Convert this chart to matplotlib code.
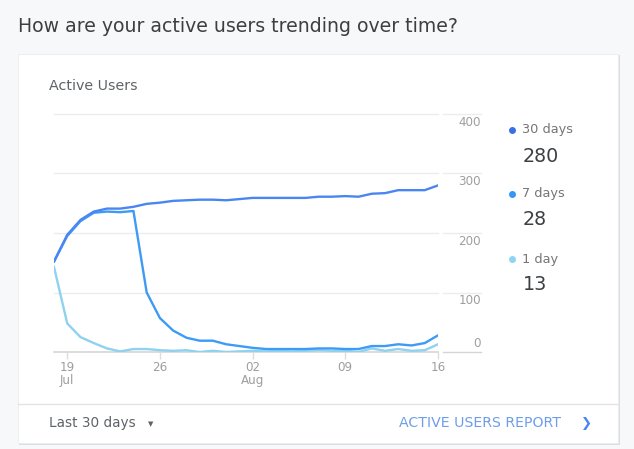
import matplotlib
matplotlib.use("Agg")
import matplotlib.pyplot as plt
import matplotlib.transforms as mtransforms
from matplotlib.patches import Rectangle
import pandas as pd

plt.rcParams['font.family'] = ['DejaVu Sans']

# ---- data ----
dates = pd.date_range("2020-07-18", "2020-08-16", freq="D")
users_30d = [152, 197, 222, 236, 241, 241, 244, 249, 251, 254, 255, 256, 256, 255, 257,
             259, 259, 259, 259, 259, 261, 261, 262, 261, 266, 267, 272, 272, 272, 280]
users_7d = [152, 195, 220, 234, 236, 235, 237, 100, 57, 36, 24, 19, 19, 13, 10,
            7, 5, 5, 5, 5, 6, 6, 5, 5, 10, 10, 13, 11, 15, 28]
users_1d = [143, 48, 25, 15, 6, 1, 5, 5, 3, 2, 3, 0, 2, 0, 1,
            2, 1, 2, 1, 2, 3, 2, 2, 0, 6, 2, 5, 2, 3, 13]
series_names = ["30 days", "7 days", "1 day"]
series_latest = ["280", "28", "13"]
y_ticks = [0, 100, 200, 300, 400]
x_tick_dates = ["2020-07-19", "2020-07-26", "2020-08-02", "2020-08-09", "2020-08-16"]
x_tick_labels = ["19\nJul", "26", "02\nAug", "09", "16"]

line_colors = ["#4a86f2", "#3d9bf5", "#8fd2ef"]
dot_colors = ["#3b6fe6", "#3399f5", "#8ed6f0"]

W, H = 634, 449
fig = plt.figure(figsize=(W / 100, H / 100), dpi=100)
fig.patch.set_facecolor("#f7f8f9")


def fx(px):
    return px / W


def fy(py):
    return 1 - py / H


# card shadow and card
shadow = Rectangle((fx(19), fy(445)), fx(620) - fx(19), fy(55) - fy(445),
                   transform=fig.transFigure, facecolor="#dddee1", edgecolor="none", zorder=0)
fig.patches.append(shadow)
card = Rectangle((fx(18), fy(443)), fx(618) - fx(18), fy(54) - fy(443),
                 transform=fig.transFigure, facecolor="white", edgecolor="#ececec",
                 linewidth=0.6, zorder=1)
fig.patches.append(card)

# footer separator
fig.add_artist(plt.Line2D([fx(18), fx(618)], [fy(404), fy(404)], transform=fig.transFigure,
                          color="#e3e3e3", linewidth=1.0, zorder=2))

# texts
fig.text(fx(18), fy(26), "How are your active users trending over time?", fontsize=13.6,
         color="#3c4043", va="center", ha="left")
fig.text(fx(49), fy(86), "Active Users", fontsize=10.3, color="#5f6368", va="center", ha="left")
fig.text(fx(49), fy(423), "Last 30 days", fontsize=9.8, color="#5f6368", va="center", ha="left")
fig.text(fx(151), fy(424), "\u25BC", fontsize=5, color="#5f6368", va="center", ha="center")
fig.text(fx(561), fy(423), "ACTIVE USERS REPORT", fontsize=10.2, color="#6f9ee9",
         va="center", ha="right")
fig.text(fx(587), fy(423), "\u276F", fontsize=9.5, color="#4a86f2", va="center", ha="center")

# chart axes
ax = fig.add_axes([fx(54), fy(352), fx(438) - fx(54), fy(114) - fy(352)])
ax.set_zorder(3)
ax.patch.set_visible(False)
ax.set_xlim(dates[0], dates[-1])
ax.set_ylim(0, 400)

for v in y_ticks:
    if v == 0:
        continue
    ax.axhline(v, color="#ececec", linewidth=1.0, zorder=1, clip_on=False)
ax.axhline(0, color="#d5d5d5", linewidth=1.2, zorder=1, clip_on=False)

ax.plot(dates, users_1d, color=line_colors[2], linewidth=1.7, zorder=3, solid_joinstyle="round")
ax.plot(dates, users_7d, color=line_colors[1], linewidth=1.7, zorder=4, solid_joinstyle="round")
ax.plot(dates, users_30d, color=line_colors[0], linewidth=1.7, zorder=5, solid_joinstyle="round")

for s in ax.spines.values():
    s.set_visible(False)
ax.set_yticks([])
tick_pos = pd.to_datetime(x_tick_dates)
ax.set_xticks(tick_pos)
ax.set_xticklabels(x_tick_labels, fontsize=8.6, color="#9e9e9e", linespacing=0.95)
ax.tick_params(axis="x", length=5, width=1, color="#dcdcdc", pad=1.5)
for lbl in ax.get_xticklabels():
    lbl.set_ha("center")

# right-side y axis labels with short gridline segments
trans = mtransforms.blended_transform_factory(ax.transAxes, ax.transData)
ax_w_px = 438 - 54
seg_x0 = (443 - 54) / ax_w_px
seg_x1 = (481 - 54) / ax_w_px
lab_x = (481 - 54) / ax_w_px
for v in y_ticks:
    col = "#d5d5d5" if v == 0 else "#ececec"
    ax.plot([seg_x0, seg_x1], [v, v], transform=trans, color=col, linewidth=1.0, clip_on=False)
    if v == 0:
        ax.text(lab_x, v + 3, str(v), transform=trans, ha="right", va="bottom",
                fontsize=8.6, color="#9e9e9e")
    else:
        ax.text(lab_x, v - 3, str(v), transform=trans, ha="right", va="top",
                fontsize=8.6, color="#9e9e9e")

# legend
leg_y = [130, 194, 259]
for i, name in enumerate(series_names):
    fig.add_artist(plt.Line2D([fx(512)], [fy(leg_y[i])], transform=fig.transFigure,
                              marker="o", markersize=4, color=dot_colors[i], linestyle="none"))
    fig.text(fx(522), fy(leg_y[i]), name, fontsize=9.3, color="#757575", va="center", ha="left")
    fig.text(fx(523), fy(leg_y[i] + 26), series_latest[i], fontsize=13.8, color="#3c4043",
             va="center", ha="left")

fig.savefig("out.png", dpi=100, facecolor=fig.get_facecolor())
